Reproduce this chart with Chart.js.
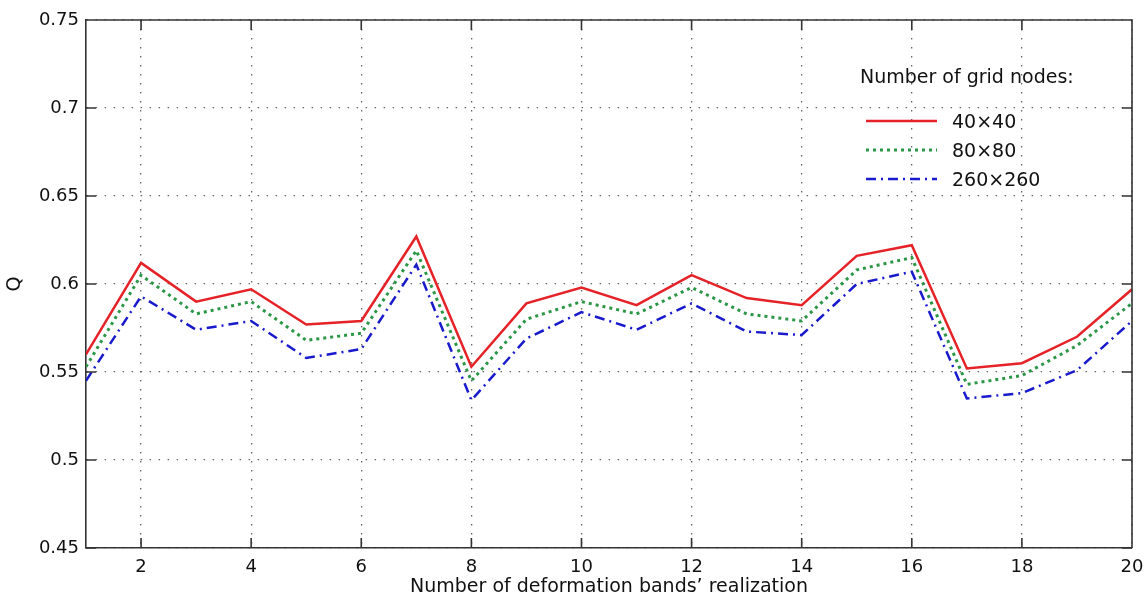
<!DOCTYPE html>
<html>
<head>
<meta charset="utf-8">
<script src="https://cdn.jsdelivr.net/npm/chart.js@4.4.0/dist/chart.umd.min.js"></script>
<style>
  html, body { margin: 0; padding: 0; background: #fff; }
  #wrap { width: 1146px; height: 604px; }
</style>
</head>
<body>
<div id="wrap"><canvas id="qChart"></canvas></div>
<script>
// data
const realizations = [1, 2, 3, 4, 5, 6, 7, 8, 9, 10, 11, 12, 13, 14, 15, 16, 17, 18, 19, 20];
const xTicks = [2, 4, 6, 8, 10, 12, 14, 16, 18, 20];
const yTicks = [0.45, 0.5, 0.55, 0.6, 0.65, 0.7, 0.75];
const seriesNames = ['40\u00d740', '80\u00d780', '260\u00d7260'];
const q40 = [0.560, 0.612, 0.590, 0.597, 0.577, 0.579, 0.627, 0.553, 0.589, 0.598,
             0.588, 0.605, 0.592, 0.588, 0.616, 0.622, 0.552, 0.555, 0.570, 0.597];
const q80 = [0.553, 0.605, 0.583, 0.590, 0.568, 0.572, 0.619, 0.545, 0.580, 0.590,
             0.583, 0.598, 0.583, 0.579, 0.608, 0.615, 0.543, 0.548, 0.565, 0.589];
const q260 = [0.545, 0.593, 0.574, 0.579, 0.558, 0.563, 0.611, 0.534, 0.569, 0.584,
              0.574, 0.589, 0.573, 0.571, 0.600, 0.607, 0.535, 0.538, 0.551, 0.579];

const FONT = '"DejaVu Sans", "Liberation Sans", Arial, sans-serif';
const axisColor = '#333';

const toPoints = (ys) => realizations.map((x, i) => ({ x: x, y: ys[i] }));
const fmt = (v) => String(Number(v.toFixed(2)));

// box around the plot + inward ticks on all four sides (matlab style)
const framePlugin = {
  id: 'frame',
  afterDatasetsDraw(chart) {
    const { ctx, chartArea: a, scales } = chart;
    const len = 10;
    ctx.save();
    ctx.strokeStyle = axisColor;
    ctx.lineWidth = 1.6;
    ctx.beginPath();
    ctx.moveTo(a.left, a.top);
    ctx.lineTo(a.right, a.top);
    ctx.lineTo(a.right, a.bottom);
    xTicks.forEach(v => {
      const px = scales.x.getPixelForValue(v);
      ctx.moveTo(px, a.bottom); ctx.lineTo(px, a.bottom - len);
      ctx.moveTo(px, a.top); ctx.lineTo(px, a.top + len);
    });
    yTicks.forEach(v => {
      const py = scales.y.getPixelForValue(v);
      ctx.moveTo(a.left, py); ctx.lineTo(a.left + len, py);
      ctx.moveTo(a.right, py); ctx.lineTo(a.right - len, py);
    });
    ctx.stroke();
    ctx.restore();
  }
};

// legend drawn inside the plot area, top right
const legendPlugin = {
  id: 'innerLegend',
  afterDraw(chart) {
    const { ctx, chartArea: a } = chart;
    const x0 = a.right - 272;
    ctx.save();
    ctx.fillStyle = '#111';
    ctx.font = '19px ' + FONT;
    ctx.textBaseline = 'middle';
    ctx.textAlign = 'left';
    ctx.fillText('Number of grid nodes:', x0, a.top + 58);
    chart.data.datasets.forEach((ds, i) => {
      const y = a.top + 101 + i * 29;
      ctx.strokeStyle = ds.borderColor;
      ctx.lineWidth = ds.borderWidth;
      ctx.setLineDash(ds.borderDash || []);
      ctx.beginPath();
      ctx.moveTo(x0 + 6, y);
      ctx.lineTo(x0 + 77, y);
      ctx.stroke();
      ctx.setLineDash([]);
      ctx.fillText(ds.label, x0 + 92, y + 2);
    });
    ctx.restore();
  }
};

const ctx = document.getElementById('qChart');

const qChart = new Chart(ctx, {
  type: 'line',
  data: {
    datasets: [{
      label: seriesNames[0],
      data: toPoints(q40),
      borderColor: '#e52228',
      borderWidth: 2.5,
      pointRadius: 0
    }, {
      label: seriesNames[1],
      data: toPoints(q80),
      borderColor: '#2a9646',
      borderWidth: 3,
      borderDash: [3, 4],
      pointRadius: 0
    }, {
      label: seriesNames[2],
      data: toPoints(q260),
      borderColor: '#1a1acd',
      borderWidth: 2.5,
      borderDash: [10, 5, 2, 5],
      pointRadius: 0
    }]
  },
  options: {
    responsive: true,
    maintainAspectRatio: false,
    animation: false,
    layout: { padding: { top: 20, right: 14, left: 0, bottom: 0 } },
    plugins: {
      legend: { display: false },
      tooltip: { enabled: false }
    },
    scales: {
      x: {
        type: 'linear',
        min: 1,
        max: 20,
        afterBuildTicks: (scale) => { scale.ticks = xTicks.map(v => ({ value: v })); },
        afterFit: (scale) => {
          scale.height = 56;
          scale.paddingLeft = 0;
          scale.paddingRight = 0;
        },
        ticks: {
          padding: 9,
          maxRotation: 0,
          color: '#111',
          font: { family: FONT, size: 18 },
          callback: (v) => String(v)
        },
        grid: {
          drawTicks: false,
          color: '#666',
          lineWidth: 1.3
        },
        border: { display: true, color: axisColor, width: 1.6, dash: [1.5, 7.5] },
        title: {
          display: true,
          text: 'Number of deformation bands\u2019 realization',
          color: '#111',
          font: { family: FONT, size: 19 },
          padding: { top: 0, bottom: 6 }
        }
      },
      y: {
        min: 0.45,
        max: 0.75,
        afterBuildTicks: (scale) => { scale.ticks = yTicks.map(v => ({ value: v })); },
        afterFit: (scale) => { scale.width = 86; },
        ticks: {
          padding: 7,
          color: '#111',
          font: { family: FONT, size: 18 },
          callback: (v) => fmt(v)
        },
        grid: {
          drawTicks: false,
          color: '#666',
          lineWidth: 1.3
        },
        border: { display: true, color: axisColor, width: 1.6, dash: [1.5, 7.5] },
        title: {
          display: true,
          text: 'Q',
          color: '#111',
          font: { family: FONT, size: 19 },
          padding: { top: 4, bottom: 0 }
        }
      }
    }
  },
  plugins: [framePlugin, legendPlugin]
});
</script>
</body>
</html>
